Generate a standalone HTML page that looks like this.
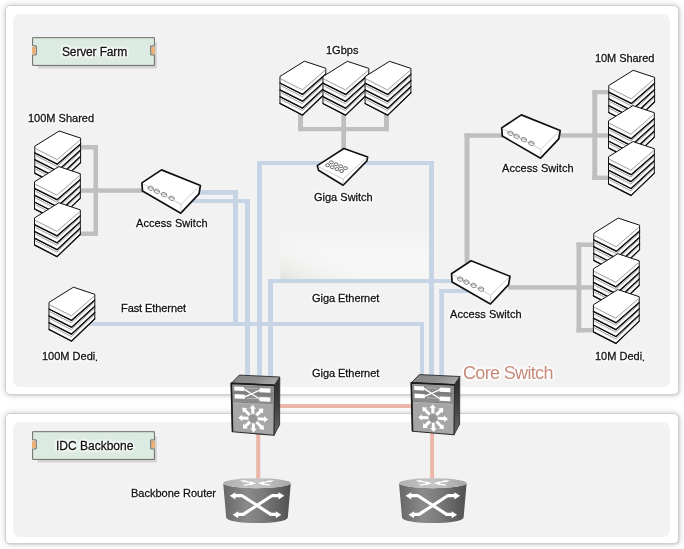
<!DOCTYPE html>
<html lang="en"><head><meta charset="utf-8"><title>Network Diagram</title>
<style>
html,body{margin:0;padding:0;background:#fff;}
#wrap{position:relative;width:684px;height:549px;overflow:hidden;background:#fff;font-family:"Liberation Sans",Arial,Helvetica,sans-serif;}
.panel{position:absolute;box-sizing:border-box;background:#fff;border:1px solid #d0d0d0;border-radius:5px;box-shadow:0 0 6px rgba(0,0,0,0.2),1px 1px 2px rgba(0,0,0,0.08);}
.inner{position:absolute;background:#f2f2f2;border-radius:7px;}
.big{-webkit-text-stroke:0 !important;}
.dot{position:relative;top:1.4px;left:-0.2px;font-size:10.5px;}
.lb{position:absolute;will-change:transform;white-space:nowrap;line-height:20px;height:20px;text-shadow:0 0 2px #fff,0 0 2px #fff,0 0 2px #fff,0 0 3px #fff,0 0 3px #fff,0 0 3px #fff,0 0 4px #fff,0 0 4px #fff;-webkit-text-stroke:0.28px currentColor;}
</style></head><body>
<div id="wrap">
<div class="panel" style="left:5px;top:5px;width:674px;height:390px"></div>
<div class="inner" style="left:13px;top:14px;width:657px;height:373px"></div>
<div class="panel" style="left:5px;top:413px;width:674px;height:131px"></div>
<div class="inner" style="left:13px;top:422px;width:657px;height:115px"></div>
<svg width="684" height="549" viewBox="0 0 684 549" style="position:absolute;left:0;top:0">
<defs>
<linearGradient id="csTop" x1="0" y1="0" x2="1" y2="0.4"><stop offset="0" stop-color="#848484"/><stop offset="0.6" stop-color="#8e8e8e"/><stop offset="1" stop-color="#a6a6a6"/></linearGradient>
<linearGradient id="csSide" x1="0" y1="0" x2="0" y2="1"><stop offset="0" stop-color="#2c2c2c"/><stop offset="0.55" stop-color="#454545"/><stop offset="1" stop-color="#686868"/></linearGradient>
<linearGradient id="rtBody" x1="0" y1="0" x2="1" y2="0"><stop offset="0" stop-color="#666"/><stop offset="0.35" stop-color="#8b8b8b"/><stop offset="0.6" stop-color="#7a7a7a"/><stop offset="1" stop-color="#4f4f4f"/></linearGradient>
<linearGradient id="rtTop" x1="0" y1="0" x2="1" y2="0"><stop offset="0" stop-color="#b0b0b0"/><stop offset="0.5" stop-color="#c6c6c6"/><stop offset="1" stop-color="#a6a6a6"/></linearGradient>
<linearGradient id="patch" x1="0" y1="0" x2="0" y2="1"><stop offset="0" stop-color="#f8f8f8" stop-opacity="0"/><stop offset="0.5" stop-color="#f8f8f8" stop-opacity="0.75"/><stop offset="1" stop-color="#f6f6f5" stop-opacity="1"/></linearGradient>
<linearGradient id="patch2" gradientUnits="userSpaceOnUse" x1="280" y1="281" x2="300" y2="240"><stop offset="0" stop-color="#d9dad5" stop-opacity="0.95"/><stop offset="0.25" stop-color="#e6e6e3" stop-opacity="0.7"/><stop offset="1" stop-color="#f4f4f3" stop-opacity="0"/></linearGradient>
<linearGradient id="patch3" x1="0" y1="0" x2="1" y2="0"><stop offset="0" stop-color="#fff" stop-opacity="0"/><stop offset="0.7" stop-color="#f5f5f5" stop-opacity="0.6"/><stop offset="1" stop-color="#f5f5f5" stop-opacity="1"/></linearGradient>
</defs>
<rect x="280.3" y="228" width="149" height="53" fill="url(#patch)"/>
<rect x="280.3" y="228" width="149" height="53" fill="url(#patch2)"/>
<rect x="80" y="145" width="18" height="4.5" fill="#bfbfbf"/>
<rect x="93.5" y="145" width="4.5" height="91" fill="#bfbfbf"/>
<rect x="80" y="231.5" width="18" height="4.5" fill="#bfbfbf"/>
<rect x="80" y="188.3" width="63" height="4.5" fill="#bfbfbf"/>
<rect x="298" y="112" width="5" height="19.2" fill="#bfbfbf"/>
<rect x="384" y="112" width="5" height="19.2" fill="#bfbfbf"/>
<rect x="298" y="127" width="91" height="4.2" fill="#bfbfbf"/>
<rect x="341.3" y="112" width="4.7" height="38" fill="#bfbfbf"/>
<rect x="464.5" y="133.3" width="38.5" height="4.5" fill="#bfbfbf"/>
<rect x="464.5" y="133.3" width="5.0" height="129.7" fill="#bfbfbf"/>
<rect x="558" y="133.3" width="54" height="4.3" fill="#bfbfbf"/>
<rect x="592.3" y="90" width="5.0" height="90" fill="#bfbfbf"/>
<rect x="592.3" y="90" width="19.7" height="4.3" fill="#bfbfbf"/>
<rect x="592.3" y="175.6" width="19.7" height="4.4" fill="#bfbfbf"/>
<rect x="508" y="285.2" width="89" height="4.5" fill="#bfbfbf"/>
<rect x="576.5" y="242.5" width="4.8" height="89.9" fill="#bfbfbf"/>
<rect x="576.5" y="242.5" width="20.5" height="4.5" fill="#bfbfbf"/>
<rect x="576.5" y="328" width="20.5" height="4.4" fill="#bfbfbf"/>
<rect x="196" y="190" width="42" height="4.8" fill="#c7d4e6"/>
<rect x="233" y="190" width="5" height="136" fill="#c7d4e6"/>
<rect x="186" y="199" width="64" height="4" fill="#c7d4e6"/>
<rect x="245" y="199" width="5" height="178" fill="#c7d4e6"/>
<rect x="257" y="161" width="5" height="216" fill="#c7d4e6"/>
<rect x="257" y="161" width="65" height="4" fill="#c7d4e6"/>
<rect x="364" y="161" width="70" height="4" fill="#c7d4e6"/>
<rect x="429" y="161" width="5" height="216" fill="#c7d4e6"/>
<rect x="268" y="279" width="5" height="98" fill="#c7d4e6"/>
<rect x="268" y="279" width="186" height="4" fill="#c7d4e6"/>
<rect x="89" y="322" width="335" height="4" fill="#c7d4e6"/>
<rect x="420" y="322" width="4" height="55" fill="#c7d4e6"/>
<rect x="439.3" y="289" width="32.7" height="4" fill="#c7d4e6"/>
<rect x="439.3" y="289" width="4.7" height="88" fill="#c7d4e6"/>
<rect x="279" y="404.1" width="133" height="3.9" fill="#ebb6a7"/>
<rect x="256.2" y="433" width="4.0" height="47" fill="#ebb6a7"/>
<rect x="430.2" y="433" width="3.8" height="47" fill="#ebb6a7"/>
<rect x="37.6" y="42.300000000000004" width="119.3" height="26.2" fill="#d3d3d3"/>
<rect x="32.1" y="47.0" width="3.5" height="6.8" fill="#ecb072"/>
<rect x="151.4" y="47.0" width="3.6" height="6.8" fill="#ecb072"/>
<path d="M32.6,37.7 H154.4 V45.9 H150.70000000000002 V54.9 H154.4 V65.4 H32.6 V54.9 H36.300000000000004 V45.9 H32.6 Z" fill="#dcebe2" stroke="#6b6b64" stroke-width="1" stroke-linejoin="miter"/>
<rect x="32.1" y="47.0" width="3.1" height="6.8" fill="#ecb072"/>
<rect x="151.8" y="47.0" width="3.2" height="6.8" fill="#ecb072"/>
<rect x="37.6" y="436.3" width="119.3" height="26.2" fill="#d3d3d3"/>
<rect x="32.1" y="441.0" width="3.5" height="6.8" fill="#ecb072"/>
<rect x="151.4" y="441.0" width="3.6" height="6.8" fill="#ecb072"/>
<path d="M32.6,431.7 H154.4 V439.9 H150.70000000000002 V448.9 H154.4 V459.4 H32.6 V448.9 H36.300000000000004 V439.9 H32.6 Z" fill="#dcebe2" stroke="#6b6b64" stroke-width="1" stroke-linejoin="miter"/>
<rect x="32.1" y="441.0" width="3.1" height="6.8" fill="#ecb072"/>
<rect x="151.8" y="441.0" width="3.2" height="6.8" fill="#ecb072"/>
<g transform="translate(59.2,130.5)">
<polygon points="0,21.2 21.4,26.2 21.4,32.2 -1.8,54.6 -24.4,42.9 -24.4,36.1" fill="#fff" stroke="#111" stroke-width="1.0" stroke-linejoin="miter"/>
<polyline points="-24.4,42.7 -1.8,54.3 21.4,32.0" fill="none" stroke="#111" stroke-width="1.3" stroke-linejoin="round" stroke-linecap="round"/>
<polyline points="-23.7,38.5 -2.0,49.8 20.7,28.1" fill="none" stroke="#777" stroke-width="0.7"/>
<polyline points="-23.7,39.8 -2.0,51.2 20.7,29.3" fill="none" stroke="#e4e4e4" stroke-width="0.5"/>
<polygon points="0,14.3 21.4,20.0 21.4,26.0 -1.8,47.7 -24.4,36.1 -24.4,29.3" fill="#fff" stroke="#111" stroke-width="1.0" stroke-linejoin="miter"/>
<polyline points="-24.4,35.9 -1.8,47.4 21.4,25.8" fill="none" stroke="#111" stroke-width="1.3" stroke-linejoin="round" stroke-linecap="round"/>
<polyline points="-23.7,31.7 -2.0,42.9 20.7,21.9" fill="none" stroke="#777" stroke-width="0.7"/>
<polyline points="-23.7,33.0 -2.0,44.3 20.7,23.1" fill="none" stroke="#e4e4e4" stroke-width="0.5"/>
<polygon points="0,7.4 21.4,13.8 21.4,19.8 -1.8,40.8 -24.4,29.3 -24.4,22.5" fill="#fff" stroke="#111" stroke-width="1.0" stroke-linejoin="miter"/>
<polyline points="-24.4,29.1 -1.8,40.5 21.4,19.6" fill="none" stroke="#111" stroke-width="1.3" stroke-linejoin="round" stroke-linecap="round"/>
<polyline points="-23.7,24.9 -2.0,36.0 20.7,15.7" fill="none" stroke="#777" stroke-width="0.7"/>
<polyline points="-23.7,26.2 -2.0,37.4 20.7,16.9" fill="none" stroke="#e4e4e4" stroke-width="0.5"/>
<polygon points="0,0.5 21.4,7.6 21.4,13.6 -1.8,33.9 -24.4,22.5 -24.4,15.7" fill="#fff" stroke="#111" stroke-width="1.0" stroke-linejoin="miter"/>
<polyline points="-24.4,22.3 -1.8,33.6 21.4,13.4" fill="none" stroke="#111" stroke-width="1.3" stroke-linejoin="round" stroke-linecap="round"/>
<polyline points="-23.7,18.1 -2.0,29.1 20.7,9.5" fill="none" stroke="#777" stroke-width="0.7"/>
<polyline points="-23.7,19.4 -2.0,30.5 20.7,10.7" fill="none" stroke="#e4e4e4" stroke-width="0.5"/>
</g>
<g transform="translate(58.9,166.1)">
<polygon points="0,21.2 21.4,26.2 21.4,32.2 -1.8,54.6 -24.4,42.9 -24.4,36.1" fill="#fff" stroke="#111" stroke-width="1.0" stroke-linejoin="miter"/>
<polyline points="-24.4,42.7 -1.8,54.3 21.4,32.0" fill="none" stroke="#111" stroke-width="1.3" stroke-linejoin="round" stroke-linecap="round"/>
<polyline points="-23.7,38.5 -2.0,49.8 20.7,28.1" fill="none" stroke="#777" stroke-width="0.7"/>
<polyline points="-23.7,39.8 -2.0,51.2 20.7,29.3" fill="none" stroke="#e4e4e4" stroke-width="0.5"/>
<polygon points="0,14.3 21.4,20.0 21.4,26.0 -1.8,47.7 -24.4,36.1 -24.4,29.3" fill="#fff" stroke="#111" stroke-width="1.0" stroke-linejoin="miter"/>
<polyline points="-24.4,35.9 -1.8,47.4 21.4,25.8" fill="none" stroke="#111" stroke-width="1.3" stroke-linejoin="round" stroke-linecap="round"/>
<polyline points="-23.7,31.7 -2.0,42.9 20.7,21.9" fill="none" stroke="#777" stroke-width="0.7"/>
<polyline points="-23.7,33.0 -2.0,44.3 20.7,23.1" fill="none" stroke="#e4e4e4" stroke-width="0.5"/>
<polygon points="0,7.4 21.4,13.8 21.4,19.8 -1.8,40.8 -24.4,29.3 -24.4,22.5" fill="#fff" stroke="#111" stroke-width="1.0" stroke-linejoin="miter"/>
<polyline points="-24.4,29.1 -1.8,40.5 21.4,19.6" fill="none" stroke="#111" stroke-width="1.3" stroke-linejoin="round" stroke-linecap="round"/>
<polyline points="-23.7,24.9 -2.0,36.0 20.7,15.7" fill="none" stroke="#777" stroke-width="0.7"/>
<polyline points="-23.7,26.2 -2.0,37.4 20.7,16.9" fill="none" stroke="#e4e4e4" stroke-width="0.5"/>
<polygon points="0,0.5 21.4,7.6 21.4,13.6 -1.8,33.9 -24.4,22.5 -24.4,15.7" fill="#fff" stroke="#111" stroke-width="1.0" stroke-linejoin="miter"/>
<polyline points="-24.4,22.3 -1.8,33.6 21.4,13.4" fill="none" stroke="#111" stroke-width="1.3" stroke-linejoin="round" stroke-linecap="round"/>
<polyline points="-23.7,18.1 -2.0,29.1 20.7,9.5" fill="none" stroke="#777" stroke-width="0.7"/>
<polyline points="-23.7,19.4 -2.0,30.5 20.7,10.7" fill="none" stroke="#e4e4e4" stroke-width="0.5"/>
</g>
<g transform="translate(58.9,202.25)">
<polygon points="0,21.2 21.4,26.2 21.4,32.2 -1.8,54.6 -24.4,42.9 -24.4,36.1" fill="#fff" stroke="#111" stroke-width="1.0" stroke-linejoin="miter"/>
<polyline points="-24.4,42.7 -1.8,54.3 21.4,32.0" fill="none" stroke="#111" stroke-width="1.3" stroke-linejoin="round" stroke-linecap="round"/>
<polyline points="-23.7,38.5 -2.0,49.8 20.7,28.1" fill="none" stroke="#777" stroke-width="0.7"/>
<polyline points="-23.7,39.8 -2.0,51.2 20.7,29.3" fill="none" stroke="#e4e4e4" stroke-width="0.5"/>
<polygon points="0,14.3 21.4,20.0 21.4,26.0 -1.8,47.7 -24.4,36.1 -24.4,29.3" fill="#fff" stroke="#111" stroke-width="1.0" stroke-linejoin="miter"/>
<polyline points="-24.4,35.9 -1.8,47.4 21.4,25.8" fill="none" stroke="#111" stroke-width="1.3" stroke-linejoin="round" stroke-linecap="round"/>
<polyline points="-23.7,31.7 -2.0,42.9 20.7,21.9" fill="none" stroke="#777" stroke-width="0.7"/>
<polyline points="-23.7,33.0 -2.0,44.3 20.7,23.1" fill="none" stroke="#e4e4e4" stroke-width="0.5"/>
<polygon points="0,7.4 21.4,13.8 21.4,19.8 -1.8,40.8 -24.4,29.3 -24.4,22.5" fill="#fff" stroke="#111" stroke-width="1.0" stroke-linejoin="miter"/>
<polyline points="-24.4,29.1 -1.8,40.5 21.4,19.6" fill="none" stroke="#111" stroke-width="1.3" stroke-linejoin="round" stroke-linecap="round"/>
<polyline points="-23.7,24.9 -2.0,36.0 20.7,15.7" fill="none" stroke="#777" stroke-width="0.7"/>
<polyline points="-23.7,26.2 -2.0,37.4 20.7,16.9" fill="none" stroke="#e4e4e4" stroke-width="0.5"/>
<polygon points="0,0.5 21.4,7.6 21.4,13.6 -1.8,33.9 -24.4,22.5 -24.4,15.7" fill="#fff" stroke="#111" stroke-width="1.0" stroke-linejoin="miter"/>
<polyline points="-24.4,22.3 -1.8,33.6 21.4,13.4" fill="none" stroke="#111" stroke-width="1.3" stroke-linejoin="round" stroke-linecap="round"/>
<polyline points="-23.7,18.1 -2.0,29.1 20.7,9.5" fill="none" stroke="#777" stroke-width="0.7"/>
<polyline points="-23.7,19.4 -2.0,30.5 20.7,10.7" fill="none" stroke="#e4e4e4" stroke-width="0.5"/>
</g>
<g transform="translate(73.4,286.7)">
<polygon points="0,21.2 21.4,26.2 21.4,32.2 -1.8,54.6 -24.4,42.9 -24.4,36.1" fill="#fff" stroke="#111" stroke-width="1.0" stroke-linejoin="miter"/>
<polyline points="-24.4,42.7 -1.8,54.3 21.4,32.0" fill="none" stroke="#111" stroke-width="1.3" stroke-linejoin="round" stroke-linecap="round"/>
<polyline points="-23.7,38.5 -2.0,49.8 20.7,28.1" fill="none" stroke="#777" stroke-width="0.7"/>
<polyline points="-23.7,39.8 -2.0,51.2 20.7,29.3" fill="none" stroke="#e4e4e4" stroke-width="0.5"/>
<polygon points="0,14.3 21.4,20.0 21.4,26.0 -1.8,47.7 -24.4,36.1 -24.4,29.3" fill="#fff" stroke="#111" stroke-width="1.0" stroke-linejoin="miter"/>
<polyline points="-24.4,35.9 -1.8,47.4 21.4,25.8" fill="none" stroke="#111" stroke-width="1.3" stroke-linejoin="round" stroke-linecap="round"/>
<polyline points="-23.7,31.7 -2.0,42.9 20.7,21.9" fill="none" stroke="#777" stroke-width="0.7"/>
<polyline points="-23.7,33.0 -2.0,44.3 20.7,23.1" fill="none" stroke="#e4e4e4" stroke-width="0.5"/>
<polygon points="0,7.4 21.4,13.8 21.4,19.8 -1.8,40.8 -24.4,29.3 -24.4,22.5" fill="#fff" stroke="#111" stroke-width="1.0" stroke-linejoin="miter"/>
<polyline points="-24.4,29.1 -1.8,40.5 21.4,19.6" fill="none" stroke="#111" stroke-width="1.3" stroke-linejoin="round" stroke-linecap="round"/>
<polyline points="-23.7,24.9 -2.0,36.0 20.7,15.7" fill="none" stroke="#777" stroke-width="0.7"/>
<polyline points="-23.7,26.2 -2.0,37.4 20.7,16.9" fill="none" stroke="#e4e4e4" stroke-width="0.5"/>
<polygon points="0,0.5 21.4,7.6 21.4,13.6 -1.8,33.9 -24.4,22.5 -24.4,15.7" fill="#fff" stroke="#111" stroke-width="1.0" stroke-linejoin="miter"/>
<polyline points="-24.4,22.3 -1.8,33.6 21.4,13.4" fill="none" stroke="#111" stroke-width="1.3" stroke-linejoin="round" stroke-linecap="round"/>
<polyline points="-23.7,18.1 -2.0,29.1 20.7,9.5" fill="none" stroke="#777" stroke-width="0.7"/>
<polyline points="-23.7,19.4 -2.0,30.5 20.7,10.7" fill="none" stroke="#e4e4e4" stroke-width="0.5"/>
</g>
<g transform="translate(304.4,60.7)">
<polygon points="0,21.2 21.4,26.2 21.4,32.2 -1.8,54.6 -24.4,42.9 -24.4,36.1" fill="#fff" stroke="#111" stroke-width="1.0" stroke-linejoin="miter"/>
<polyline points="-24.4,42.7 -1.8,54.3 21.4,32.0" fill="none" stroke="#111" stroke-width="1.3" stroke-linejoin="round" stroke-linecap="round"/>
<polyline points="-23.7,38.5 -2.0,49.8 20.7,28.1" fill="none" stroke="#777" stroke-width="0.7"/>
<polyline points="-23.7,39.8 -2.0,51.2 20.7,29.3" fill="none" stroke="#e4e4e4" stroke-width="0.5"/>
<polygon points="0,14.3 21.4,20.0 21.4,26.0 -1.8,47.7 -24.4,36.1 -24.4,29.3" fill="#fff" stroke="#111" stroke-width="1.0" stroke-linejoin="miter"/>
<polyline points="-24.4,35.9 -1.8,47.4 21.4,25.8" fill="none" stroke="#111" stroke-width="1.3" stroke-linejoin="round" stroke-linecap="round"/>
<polyline points="-23.7,31.7 -2.0,42.9 20.7,21.9" fill="none" stroke="#777" stroke-width="0.7"/>
<polyline points="-23.7,33.0 -2.0,44.3 20.7,23.1" fill="none" stroke="#e4e4e4" stroke-width="0.5"/>
<polygon points="0,7.4 21.4,13.8 21.4,19.8 -1.8,40.8 -24.4,29.3 -24.4,22.5" fill="#fff" stroke="#111" stroke-width="1.0" stroke-linejoin="miter"/>
<polyline points="-24.4,29.1 -1.8,40.5 21.4,19.6" fill="none" stroke="#111" stroke-width="1.3" stroke-linejoin="round" stroke-linecap="round"/>
<polyline points="-23.7,24.9 -2.0,36.0 20.7,15.7" fill="none" stroke="#777" stroke-width="0.7"/>
<polyline points="-23.7,26.2 -2.0,37.4 20.7,16.9" fill="none" stroke="#e4e4e4" stroke-width="0.5"/>
<polygon points="0,0.5 21.4,7.6 21.4,13.6 -1.8,33.9 -24.4,22.5 -24.4,15.7" fill="#fff" stroke="#111" stroke-width="1.0" stroke-linejoin="miter"/>
<polyline points="-24.4,22.3 -1.8,33.6 21.4,13.4" fill="none" stroke="#111" stroke-width="1.3" stroke-linejoin="round" stroke-linecap="round"/>
<polyline points="-23.7,18.1 -2.0,29.1 20.7,9.5" fill="none" stroke="#777" stroke-width="0.7"/>
<polyline points="-23.7,19.4 -2.0,30.5 20.7,10.7" fill="none" stroke="#e4e4e4" stroke-width="0.5"/>
</g>
<g transform="translate(347.4,60.8)">
<polygon points="0,21.2 21.4,26.2 21.4,32.2 -1.8,54.6 -24.4,42.9 -24.4,36.1" fill="#fff" stroke="#111" stroke-width="1.0" stroke-linejoin="miter"/>
<polyline points="-24.4,42.7 -1.8,54.3 21.4,32.0" fill="none" stroke="#111" stroke-width="1.3" stroke-linejoin="round" stroke-linecap="round"/>
<polyline points="-23.7,38.5 -2.0,49.8 20.7,28.1" fill="none" stroke="#777" stroke-width="0.7"/>
<polyline points="-23.7,39.8 -2.0,51.2 20.7,29.3" fill="none" stroke="#e4e4e4" stroke-width="0.5"/>
<polygon points="0,14.3 21.4,20.0 21.4,26.0 -1.8,47.7 -24.4,36.1 -24.4,29.3" fill="#fff" stroke="#111" stroke-width="1.0" stroke-linejoin="miter"/>
<polyline points="-24.4,35.9 -1.8,47.4 21.4,25.8" fill="none" stroke="#111" stroke-width="1.3" stroke-linejoin="round" stroke-linecap="round"/>
<polyline points="-23.7,31.7 -2.0,42.9 20.7,21.9" fill="none" stroke="#777" stroke-width="0.7"/>
<polyline points="-23.7,33.0 -2.0,44.3 20.7,23.1" fill="none" stroke="#e4e4e4" stroke-width="0.5"/>
<polygon points="0,7.4 21.4,13.8 21.4,19.8 -1.8,40.8 -24.4,29.3 -24.4,22.5" fill="#fff" stroke="#111" stroke-width="1.0" stroke-linejoin="miter"/>
<polyline points="-24.4,29.1 -1.8,40.5 21.4,19.6" fill="none" stroke="#111" stroke-width="1.3" stroke-linejoin="round" stroke-linecap="round"/>
<polyline points="-23.7,24.9 -2.0,36.0 20.7,15.7" fill="none" stroke="#777" stroke-width="0.7"/>
<polyline points="-23.7,26.2 -2.0,37.4 20.7,16.9" fill="none" stroke="#e4e4e4" stroke-width="0.5"/>
<polygon points="0,0.5 21.4,7.6 21.4,13.6 -1.8,33.9 -24.4,22.5 -24.4,15.7" fill="#fff" stroke="#111" stroke-width="1.0" stroke-linejoin="miter"/>
<polyline points="-24.4,22.3 -1.8,33.6 21.4,13.4" fill="none" stroke="#111" stroke-width="1.3" stroke-linejoin="round" stroke-linecap="round"/>
<polyline points="-23.7,18.1 -2.0,29.1 20.7,9.5" fill="none" stroke="#777" stroke-width="0.7"/>
<polyline points="-23.7,19.4 -2.0,30.5 20.7,10.7" fill="none" stroke="#e4e4e4" stroke-width="0.5"/>
</g>
<g transform="translate(389.5,60.8)">
<polygon points="0,21.2 21.4,26.2 21.4,32.2 -1.8,54.6 -24.4,42.9 -24.4,36.1" fill="#fff" stroke="#111" stroke-width="1.0" stroke-linejoin="miter"/>
<polyline points="-24.4,42.7 -1.8,54.3 21.4,32.0" fill="none" stroke="#111" stroke-width="1.3" stroke-linejoin="round" stroke-linecap="round"/>
<polyline points="-23.7,38.5 -2.0,49.8 20.7,28.1" fill="none" stroke="#777" stroke-width="0.7"/>
<polyline points="-23.7,39.8 -2.0,51.2 20.7,29.3" fill="none" stroke="#e4e4e4" stroke-width="0.5"/>
<polygon points="0,14.3 21.4,20.0 21.4,26.0 -1.8,47.7 -24.4,36.1 -24.4,29.3" fill="#fff" stroke="#111" stroke-width="1.0" stroke-linejoin="miter"/>
<polyline points="-24.4,35.9 -1.8,47.4 21.4,25.8" fill="none" stroke="#111" stroke-width="1.3" stroke-linejoin="round" stroke-linecap="round"/>
<polyline points="-23.7,31.7 -2.0,42.9 20.7,21.9" fill="none" stroke="#777" stroke-width="0.7"/>
<polyline points="-23.7,33.0 -2.0,44.3 20.7,23.1" fill="none" stroke="#e4e4e4" stroke-width="0.5"/>
<polygon points="0,7.4 21.4,13.8 21.4,19.8 -1.8,40.8 -24.4,29.3 -24.4,22.5" fill="#fff" stroke="#111" stroke-width="1.0" stroke-linejoin="miter"/>
<polyline points="-24.4,29.1 -1.8,40.5 21.4,19.6" fill="none" stroke="#111" stroke-width="1.3" stroke-linejoin="round" stroke-linecap="round"/>
<polyline points="-23.7,24.9 -2.0,36.0 20.7,15.7" fill="none" stroke="#777" stroke-width="0.7"/>
<polyline points="-23.7,26.2 -2.0,37.4 20.7,16.9" fill="none" stroke="#e4e4e4" stroke-width="0.5"/>
<polygon points="0,0.5 21.4,7.6 21.4,13.6 -1.8,33.9 -24.4,22.5 -24.4,15.7" fill="#fff" stroke="#111" stroke-width="1.0" stroke-linejoin="miter"/>
<polyline points="-24.4,22.3 -1.8,33.6 21.4,13.4" fill="none" stroke="#111" stroke-width="1.3" stroke-linejoin="round" stroke-linecap="round"/>
<polyline points="-23.7,18.1 -2.0,29.1 20.7,9.5" fill="none" stroke="#777" stroke-width="0.7"/>
<polyline points="-23.7,19.4 -2.0,30.5 20.7,10.7" fill="none" stroke="#e4e4e4" stroke-width="0.5"/>
</g>
<g transform="translate(633.2,69.8)">
<polygon points="0,21.2 21.4,26.2 21.4,32.2 -1.8,54.6 -24.4,42.9 -24.4,36.1" fill="#fff" stroke="#111" stroke-width="1.0" stroke-linejoin="miter"/>
<polyline points="-24.4,42.7 -1.8,54.3 21.4,32.0" fill="none" stroke="#111" stroke-width="1.3" stroke-linejoin="round" stroke-linecap="round"/>
<polyline points="-23.7,38.5 -2.0,49.8 20.7,28.1" fill="none" stroke="#777" stroke-width="0.7"/>
<polyline points="-23.7,39.8 -2.0,51.2 20.7,29.3" fill="none" stroke="#e4e4e4" stroke-width="0.5"/>
<polygon points="0,14.3 21.4,20.0 21.4,26.0 -1.8,47.7 -24.4,36.1 -24.4,29.3" fill="#fff" stroke="#111" stroke-width="1.0" stroke-linejoin="miter"/>
<polyline points="-24.4,35.9 -1.8,47.4 21.4,25.8" fill="none" stroke="#111" stroke-width="1.3" stroke-linejoin="round" stroke-linecap="round"/>
<polyline points="-23.7,31.7 -2.0,42.9 20.7,21.9" fill="none" stroke="#777" stroke-width="0.7"/>
<polyline points="-23.7,33.0 -2.0,44.3 20.7,23.1" fill="none" stroke="#e4e4e4" stroke-width="0.5"/>
<polygon points="0,7.4 21.4,13.8 21.4,19.8 -1.8,40.8 -24.4,29.3 -24.4,22.5" fill="#fff" stroke="#111" stroke-width="1.0" stroke-linejoin="miter"/>
<polyline points="-24.4,29.1 -1.8,40.5 21.4,19.6" fill="none" stroke="#111" stroke-width="1.3" stroke-linejoin="round" stroke-linecap="round"/>
<polyline points="-23.7,24.9 -2.0,36.0 20.7,15.7" fill="none" stroke="#777" stroke-width="0.7"/>
<polyline points="-23.7,26.2 -2.0,37.4 20.7,16.9" fill="none" stroke="#e4e4e4" stroke-width="0.5"/>
<polygon points="0,0.5 21.4,7.6 21.4,13.6 -1.8,33.9 -24.4,22.5 -24.4,15.7" fill="#fff" stroke="#111" stroke-width="1.0" stroke-linejoin="miter"/>
<polyline points="-24.4,22.3 -1.8,33.6 21.4,13.4" fill="none" stroke="#111" stroke-width="1.3" stroke-linejoin="round" stroke-linecap="round"/>
<polyline points="-23.7,18.1 -2.0,29.1 20.7,9.5" fill="none" stroke="#777" stroke-width="0.7"/>
<polyline points="-23.7,19.4 -2.0,30.5 20.7,10.7" fill="none" stroke="#e4e4e4" stroke-width="0.5"/>
</g>
<g transform="translate(632.9,105.1)">
<polygon points="0,21.2 21.4,26.2 21.4,32.2 -1.8,54.6 -24.4,42.9 -24.4,36.1" fill="#fff" stroke="#111" stroke-width="1.0" stroke-linejoin="miter"/>
<polyline points="-24.4,42.7 -1.8,54.3 21.4,32.0" fill="none" stroke="#111" stroke-width="1.3" stroke-linejoin="round" stroke-linecap="round"/>
<polyline points="-23.7,38.5 -2.0,49.8 20.7,28.1" fill="none" stroke="#777" stroke-width="0.7"/>
<polyline points="-23.7,39.8 -2.0,51.2 20.7,29.3" fill="none" stroke="#e4e4e4" stroke-width="0.5"/>
<polygon points="0,14.3 21.4,20.0 21.4,26.0 -1.8,47.7 -24.4,36.1 -24.4,29.3" fill="#fff" stroke="#111" stroke-width="1.0" stroke-linejoin="miter"/>
<polyline points="-24.4,35.9 -1.8,47.4 21.4,25.8" fill="none" stroke="#111" stroke-width="1.3" stroke-linejoin="round" stroke-linecap="round"/>
<polyline points="-23.7,31.7 -2.0,42.9 20.7,21.9" fill="none" stroke="#777" stroke-width="0.7"/>
<polyline points="-23.7,33.0 -2.0,44.3 20.7,23.1" fill="none" stroke="#e4e4e4" stroke-width="0.5"/>
<polygon points="0,7.4 21.4,13.8 21.4,19.8 -1.8,40.8 -24.4,29.3 -24.4,22.5" fill="#fff" stroke="#111" stroke-width="1.0" stroke-linejoin="miter"/>
<polyline points="-24.4,29.1 -1.8,40.5 21.4,19.6" fill="none" stroke="#111" stroke-width="1.3" stroke-linejoin="round" stroke-linecap="round"/>
<polyline points="-23.7,24.9 -2.0,36.0 20.7,15.7" fill="none" stroke="#777" stroke-width="0.7"/>
<polyline points="-23.7,26.2 -2.0,37.4 20.7,16.9" fill="none" stroke="#e4e4e4" stroke-width="0.5"/>
<polygon points="0,0.5 21.4,7.6 21.4,13.6 -1.8,33.9 -24.4,22.5 -24.4,15.7" fill="#fff" stroke="#111" stroke-width="1.0" stroke-linejoin="miter"/>
<polyline points="-24.4,22.3 -1.8,33.6 21.4,13.4" fill="none" stroke="#111" stroke-width="1.3" stroke-linejoin="round" stroke-linecap="round"/>
<polyline points="-23.7,18.1 -2.0,29.1 20.7,9.5" fill="none" stroke="#777" stroke-width="0.7"/>
<polyline points="-23.7,19.4 -2.0,30.5 20.7,10.7" fill="none" stroke="#e4e4e4" stroke-width="0.5"/>
</g>
<g transform="translate(632.9,141.1)">
<polygon points="0,21.2 21.4,26.2 21.4,32.2 -1.8,54.6 -24.4,42.9 -24.4,36.1" fill="#fff" stroke="#111" stroke-width="1.0" stroke-linejoin="miter"/>
<polyline points="-24.4,42.7 -1.8,54.3 21.4,32.0" fill="none" stroke="#111" stroke-width="1.3" stroke-linejoin="round" stroke-linecap="round"/>
<polyline points="-23.7,38.5 -2.0,49.8 20.7,28.1" fill="none" stroke="#777" stroke-width="0.7"/>
<polyline points="-23.7,39.8 -2.0,51.2 20.7,29.3" fill="none" stroke="#e4e4e4" stroke-width="0.5"/>
<polygon points="0,14.3 21.4,20.0 21.4,26.0 -1.8,47.7 -24.4,36.1 -24.4,29.3" fill="#fff" stroke="#111" stroke-width="1.0" stroke-linejoin="miter"/>
<polyline points="-24.4,35.9 -1.8,47.4 21.4,25.8" fill="none" stroke="#111" stroke-width="1.3" stroke-linejoin="round" stroke-linecap="round"/>
<polyline points="-23.7,31.7 -2.0,42.9 20.7,21.9" fill="none" stroke="#777" stroke-width="0.7"/>
<polyline points="-23.7,33.0 -2.0,44.3 20.7,23.1" fill="none" stroke="#e4e4e4" stroke-width="0.5"/>
<polygon points="0,7.4 21.4,13.8 21.4,19.8 -1.8,40.8 -24.4,29.3 -24.4,22.5" fill="#fff" stroke="#111" stroke-width="1.0" stroke-linejoin="miter"/>
<polyline points="-24.4,29.1 -1.8,40.5 21.4,19.6" fill="none" stroke="#111" stroke-width="1.3" stroke-linejoin="round" stroke-linecap="round"/>
<polyline points="-23.7,24.9 -2.0,36.0 20.7,15.7" fill="none" stroke="#777" stroke-width="0.7"/>
<polyline points="-23.7,26.2 -2.0,37.4 20.7,16.9" fill="none" stroke="#e4e4e4" stroke-width="0.5"/>
<polygon points="0,0.5 21.4,7.6 21.4,13.6 -1.8,33.9 -24.4,22.5 -24.4,15.7" fill="#fff" stroke="#111" stroke-width="1.0" stroke-linejoin="miter"/>
<polyline points="-24.4,22.3 -1.8,33.6 21.4,13.4" fill="none" stroke="#111" stroke-width="1.3" stroke-linejoin="round" stroke-linecap="round"/>
<polyline points="-23.7,18.1 -2.0,29.1 20.7,9.5" fill="none" stroke="#777" stroke-width="0.7"/>
<polyline points="-23.7,19.4 -2.0,30.5 20.7,10.7" fill="none" stroke="#e4e4e4" stroke-width="0.5"/>
</g>
<g transform="translate(618.2,217.6)">
<polygon points="0,21.2 21.4,26.2 21.4,32.2 -1.8,54.6 -24.4,42.9 -24.4,36.1" fill="#fff" stroke="#111" stroke-width="1.0" stroke-linejoin="miter"/>
<polyline points="-24.4,42.7 -1.8,54.3 21.4,32.0" fill="none" stroke="#111" stroke-width="1.3" stroke-linejoin="round" stroke-linecap="round"/>
<polyline points="-23.7,38.5 -2.0,49.8 20.7,28.1" fill="none" stroke="#777" stroke-width="0.7"/>
<polyline points="-23.7,39.8 -2.0,51.2 20.7,29.3" fill="none" stroke="#e4e4e4" stroke-width="0.5"/>
<polygon points="0,14.3 21.4,20.0 21.4,26.0 -1.8,47.7 -24.4,36.1 -24.4,29.3" fill="#fff" stroke="#111" stroke-width="1.0" stroke-linejoin="miter"/>
<polyline points="-24.4,35.9 -1.8,47.4 21.4,25.8" fill="none" stroke="#111" stroke-width="1.3" stroke-linejoin="round" stroke-linecap="round"/>
<polyline points="-23.7,31.7 -2.0,42.9 20.7,21.9" fill="none" stroke="#777" stroke-width="0.7"/>
<polyline points="-23.7,33.0 -2.0,44.3 20.7,23.1" fill="none" stroke="#e4e4e4" stroke-width="0.5"/>
<polygon points="0,7.4 21.4,13.8 21.4,19.8 -1.8,40.8 -24.4,29.3 -24.4,22.5" fill="#fff" stroke="#111" stroke-width="1.0" stroke-linejoin="miter"/>
<polyline points="-24.4,29.1 -1.8,40.5 21.4,19.6" fill="none" stroke="#111" stroke-width="1.3" stroke-linejoin="round" stroke-linecap="round"/>
<polyline points="-23.7,24.9 -2.0,36.0 20.7,15.7" fill="none" stroke="#777" stroke-width="0.7"/>
<polyline points="-23.7,26.2 -2.0,37.4 20.7,16.9" fill="none" stroke="#e4e4e4" stroke-width="0.5"/>
<polygon points="0,0.5 21.4,7.6 21.4,13.6 -1.8,33.9 -24.4,22.5 -24.4,15.7" fill="#fff" stroke="#111" stroke-width="1.0" stroke-linejoin="miter"/>
<polyline points="-24.4,22.3 -1.8,33.6 21.4,13.4" fill="none" stroke="#111" stroke-width="1.3" stroke-linejoin="round" stroke-linecap="round"/>
<polyline points="-23.7,18.1 -2.0,29.1 20.7,9.5" fill="none" stroke="#777" stroke-width="0.7"/>
<polyline points="-23.7,19.4 -2.0,30.5 20.7,10.7" fill="none" stroke="#e4e4e4" stroke-width="0.5"/>
</g>
<g transform="translate(617.8,253.2)">
<polygon points="0,21.2 21.4,26.2 21.4,32.2 -1.8,54.6 -24.4,42.9 -24.4,36.1" fill="#fff" stroke="#111" stroke-width="1.0" stroke-linejoin="miter"/>
<polyline points="-24.4,42.7 -1.8,54.3 21.4,32.0" fill="none" stroke="#111" stroke-width="1.3" stroke-linejoin="round" stroke-linecap="round"/>
<polyline points="-23.7,38.5 -2.0,49.8 20.7,28.1" fill="none" stroke="#777" stroke-width="0.7"/>
<polyline points="-23.7,39.8 -2.0,51.2 20.7,29.3" fill="none" stroke="#e4e4e4" stroke-width="0.5"/>
<polygon points="0,14.3 21.4,20.0 21.4,26.0 -1.8,47.7 -24.4,36.1 -24.4,29.3" fill="#fff" stroke="#111" stroke-width="1.0" stroke-linejoin="miter"/>
<polyline points="-24.4,35.9 -1.8,47.4 21.4,25.8" fill="none" stroke="#111" stroke-width="1.3" stroke-linejoin="round" stroke-linecap="round"/>
<polyline points="-23.7,31.7 -2.0,42.9 20.7,21.9" fill="none" stroke="#777" stroke-width="0.7"/>
<polyline points="-23.7,33.0 -2.0,44.3 20.7,23.1" fill="none" stroke="#e4e4e4" stroke-width="0.5"/>
<polygon points="0,7.4 21.4,13.8 21.4,19.8 -1.8,40.8 -24.4,29.3 -24.4,22.5" fill="#fff" stroke="#111" stroke-width="1.0" stroke-linejoin="miter"/>
<polyline points="-24.4,29.1 -1.8,40.5 21.4,19.6" fill="none" stroke="#111" stroke-width="1.3" stroke-linejoin="round" stroke-linecap="round"/>
<polyline points="-23.7,24.9 -2.0,36.0 20.7,15.7" fill="none" stroke="#777" stroke-width="0.7"/>
<polyline points="-23.7,26.2 -2.0,37.4 20.7,16.9" fill="none" stroke="#e4e4e4" stroke-width="0.5"/>
<polygon points="0,0.5 21.4,7.6 21.4,13.6 -1.8,33.9 -24.4,22.5 -24.4,15.7" fill="#fff" stroke="#111" stroke-width="1.0" stroke-linejoin="miter"/>
<polyline points="-24.4,22.3 -1.8,33.6 21.4,13.4" fill="none" stroke="#111" stroke-width="1.3" stroke-linejoin="round" stroke-linecap="round"/>
<polyline points="-23.7,18.1 -2.0,29.1 20.7,9.5" fill="none" stroke="#777" stroke-width="0.7"/>
<polyline points="-23.7,19.4 -2.0,30.5 20.7,10.7" fill="none" stroke="#e4e4e4" stroke-width="0.5"/>
</g>
<g transform="translate(617.8,289.1)">
<polygon points="0,21.2 21.4,26.2 21.4,32.2 -1.8,54.6 -24.4,42.9 -24.4,36.1" fill="#fff" stroke="#111" stroke-width="1.0" stroke-linejoin="miter"/>
<polyline points="-24.4,42.7 -1.8,54.3 21.4,32.0" fill="none" stroke="#111" stroke-width="1.3" stroke-linejoin="round" stroke-linecap="round"/>
<polyline points="-23.7,38.5 -2.0,49.8 20.7,28.1" fill="none" stroke="#777" stroke-width="0.7"/>
<polyline points="-23.7,39.8 -2.0,51.2 20.7,29.3" fill="none" stroke="#e4e4e4" stroke-width="0.5"/>
<polygon points="0,14.3 21.4,20.0 21.4,26.0 -1.8,47.7 -24.4,36.1 -24.4,29.3" fill="#fff" stroke="#111" stroke-width="1.0" stroke-linejoin="miter"/>
<polyline points="-24.4,35.9 -1.8,47.4 21.4,25.8" fill="none" stroke="#111" stroke-width="1.3" stroke-linejoin="round" stroke-linecap="round"/>
<polyline points="-23.7,31.7 -2.0,42.9 20.7,21.9" fill="none" stroke="#777" stroke-width="0.7"/>
<polyline points="-23.7,33.0 -2.0,44.3 20.7,23.1" fill="none" stroke="#e4e4e4" stroke-width="0.5"/>
<polygon points="0,7.4 21.4,13.8 21.4,19.8 -1.8,40.8 -24.4,29.3 -24.4,22.5" fill="#fff" stroke="#111" stroke-width="1.0" stroke-linejoin="miter"/>
<polyline points="-24.4,29.1 -1.8,40.5 21.4,19.6" fill="none" stroke="#111" stroke-width="1.3" stroke-linejoin="round" stroke-linecap="round"/>
<polyline points="-23.7,24.9 -2.0,36.0 20.7,15.7" fill="none" stroke="#777" stroke-width="0.7"/>
<polyline points="-23.7,26.2 -2.0,37.4 20.7,16.9" fill="none" stroke="#e4e4e4" stroke-width="0.5"/>
<polygon points="0,0.5 21.4,7.6 21.4,13.6 -1.8,33.9 -24.4,22.5 -24.4,15.7" fill="#fff" stroke="#111" stroke-width="1.0" stroke-linejoin="miter"/>
<polyline points="-24.4,22.3 -1.8,33.6 21.4,13.4" fill="none" stroke="#111" stroke-width="1.3" stroke-linejoin="round" stroke-linecap="round"/>
<polyline points="-23.7,18.1 -2.0,29.1 20.7,9.5" fill="none" stroke="#777" stroke-width="0.7"/>
<polyline points="-23.7,19.4 -2.0,30.5 20.7,10.7" fill="none" stroke="#e4e4e4" stroke-width="0.5"/>
</g>
<g transform="translate(161.5,169.9)">
<polygon points="0,0 38.9,15.6 37.5,24.0 19.3,43.3 -19.0,21.2 -19.6,13.0" fill="#fff" stroke="#111" stroke-width="1.7" stroke-linejoin="round"/>
<polyline points="-18.8,13.8 19.6,34.4 38.1,16.2" fill="none" stroke="#aaa" stroke-width="0.6"/>
<line x1="19.6" y1="34.4" x2="19.3" y2="42.5" stroke="#aaa" stroke-width="0.6"/>
<ellipse cx="-10.8" cy="18.4" rx="2.8" ry="2.1" fill="#fff" stroke="#666" stroke-width="0.7" transform="rotate(20 -10.8 18.4)"/>
<line x1="-13.5" y1="17.4" x2="-8.1" y2="18.6" stroke="#6a6a6a" stroke-width="0.6"/>
<ellipse cx="-4.7" cy="21.4" rx="2.8" ry="2.1" fill="#fff" stroke="#666" stroke-width="0.7" transform="rotate(20 -4.7 21.4)"/>
<line x1="-7.4" y1="20.4" x2="-2.0" y2="21.6" stroke="#6a6a6a" stroke-width="0.6"/>
<ellipse cx="2.5" cy="24.7" rx="2.8" ry="2.1" fill="#fff" stroke="#666" stroke-width="0.7" transform="rotate(20 2.5 24.7)"/>
<line x1="-0.2" y1="23.7" x2="5.2" y2="24.9" stroke="#6a6a6a" stroke-width="0.6"/>
<ellipse cx="10.1" cy="28.4" rx="2.8" ry="2.1" fill="#fff" stroke="#666" stroke-width="0.7" transform="rotate(20 10.1 28.4)"/>
<line x1="7.4" y1="27.4" x2="12.8" y2="28.6" stroke="#6a6a6a" stroke-width="0.6"/>
</g>
<g transform="translate(521.3,114.9)">
<polygon points="0,0 38.9,15.6 37.5,24.0 19.3,43.3 -19.0,21.2 -19.6,13.0" fill="#fff" stroke="#111" stroke-width="1.7" stroke-linejoin="round"/>
<polyline points="-18.8,13.8 19.6,34.4 38.1,16.2" fill="none" stroke="#aaa" stroke-width="0.6"/>
<line x1="19.6" y1="34.4" x2="19.3" y2="42.5" stroke="#aaa" stroke-width="0.6"/>
<ellipse cx="-10.8" cy="18.4" rx="2.8" ry="2.1" fill="#fff" stroke="#666" stroke-width="0.7" transform="rotate(20 -10.8 18.4)"/>
<line x1="-13.5" y1="17.4" x2="-8.1" y2="18.6" stroke="#6a6a6a" stroke-width="0.6"/>
<ellipse cx="-4.7" cy="21.4" rx="2.8" ry="2.1" fill="#fff" stroke="#666" stroke-width="0.7" transform="rotate(20 -4.7 21.4)"/>
<line x1="-7.4" y1="20.4" x2="-2.0" y2="21.6" stroke="#6a6a6a" stroke-width="0.6"/>
<ellipse cx="2.5" cy="24.7" rx="2.8" ry="2.1" fill="#fff" stroke="#666" stroke-width="0.7" transform="rotate(20 2.5 24.7)"/>
<line x1="-0.2" y1="23.7" x2="5.2" y2="24.9" stroke="#6a6a6a" stroke-width="0.6"/>
<ellipse cx="10.1" cy="28.4" rx="2.8" ry="2.1" fill="#fff" stroke="#666" stroke-width="0.7" transform="rotate(20 10.1 28.4)"/>
<line x1="7.4" y1="27.4" x2="12.8" y2="28.6" stroke="#6a6a6a" stroke-width="0.6"/>
</g>
<g transform="translate(471.1,260.7)">
<polygon points="0,0 38.9,15.6 37.5,24.0 19.3,43.3 -19.0,21.2 -19.6,13.0" fill="#fff" stroke="#111" stroke-width="1.7" stroke-linejoin="round"/>
<polyline points="-18.8,13.8 19.6,34.4 38.1,16.2" fill="none" stroke="#aaa" stroke-width="0.6"/>
<line x1="19.6" y1="34.4" x2="19.3" y2="42.5" stroke="#aaa" stroke-width="0.6"/>
<ellipse cx="-10.8" cy="18.4" rx="2.8" ry="2.1" fill="#fff" stroke="#666" stroke-width="0.7" transform="rotate(20 -10.8 18.4)"/>
<line x1="-13.5" y1="17.4" x2="-8.1" y2="18.6" stroke="#6a6a6a" stroke-width="0.6"/>
<ellipse cx="-4.7" cy="21.4" rx="2.8" ry="2.1" fill="#fff" stroke="#666" stroke-width="0.7" transform="rotate(20 -4.7 21.4)"/>
<line x1="-7.4" y1="20.4" x2="-2.0" y2="21.6" stroke="#6a6a6a" stroke-width="0.6"/>
<ellipse cx="2.5" cy="24.7" rx="2.8" ry="2.1" fill="#fff" stroke="#666" stroke-width="0.7" transform="rotate(20 2.5 24.7)"/>
<line x1="-0.2" y1="23.7" x2="5.2" y2="24.9" stroke="#6a6a6a" stroke-width="0.6"/>
<ellipse cx="10.1" cy="28.4" rx="2.8" ry="2.1" fill="#fff" stroke="#666" stroke-width="0.7" transform="rotate(20 10.1 28.4)"/>
<line x1="7.4" y1="27.4" x2="12.8" y2="28.6" stroke="#6a6a6a" stroke-width="0.6"/>
</g>
<g transform="translate(343.9,148.5)">
<polygon points="0,0 23.8,8.4 23.0,12.4 -0.8,36.7 -25.4,21.7 -26.6,17.2" fill="#fff" stroke="#111" stroke-width="1.6" stroke-linejoin="round"/>
<polyline points="-25.8,18.0 -0.8,30.5 23.0,9.0" fill="none" stroke="#aaa" stroke-width="0.6"/>
<line x1="-0.8" y1="30.5" x2="-0.8" y2="35.900000000000006" stroke="#aaa" stroke-width="0.6"/>
<ellipse cx="-12.5" cy="13.8" rx="2.0" ry="1.45" fill="#fff" stroke="#3a3a3a" stroke-width="0.75"/>
<ellipse cx="-7.83" cy="15.75" rx="2.0" ry="1.45" fill="#fff" stroke="#3a3a3a" stroke-width="0.75"/>
<ellipse cx="-3.16" cy="17.7" rx="2.0" ry="1.45" fill="#fff" stroke="#3a3a3a" stroke-width="0.75"/>
<ellipse cx="1.51" cy="19.65" rx="2.0" ry="1.45" fill="#fff" stroke="#3a3a3a" stroke-width="0.75"/>
<ellipse cx="-16.3" cy="16.7" rx="2.0" ry="1.45" fill="#fff" stroke="#3a3a3a" stroke-width="0.75"/>
<ellipse cx="-11.63" cy="18.65" rx="2.0" ry="1.45" fill="#fff" stroke="#3a3a3a" stroke-width="0.75"/>
<ellipse cx="-6.96" cy="20.6" rx="2.0" ry="1.45" fill="#fff" stroke="#3a3a3a" stroke-width="0.75"/>
<ellipse cx="-2.29" cy="22.55" rx="2.0" ry="1.45" fill="#fff" stroke="#3a3a3a" stroke-width="0.75"/>
</g>
<g transform="translate(0,0)">
<polygon points="274.4,385.3 279.8,377.0 279.6,424.8 274.0,435.3" fill="url(#csSide)" stroke="#2a2a2a" stroke-width="0.8" stroke-linejoin="round"/>
<polygon points="239.3,375.1 279.8,377.0 274.4,385.3 231.3,383.3" fill="url(#csTop)" stroke="#2a2a2a" stroke-width="0.9" stroke-linejoin="round"/>
<polygon points="231.3,383.3 274.4,385.3 274.0,435.3 232.6,431.8" fill="#a6a6a6" stroke="#2a2a2a" stroke-width="1.1" stroke-linejoin="round"/>
<polygon points="232.5,384.9 273.4,386.8 273.2,403.2 232.8,401.3" fill="#8d8d8d"/>
<polygon points="233.4,391.3 272.6,393.1 272.6,396.6 233.4,394.0" fill="#7e7e7e"/>
<line x1="232.6" y1="401.9" x2="273.2" y2="403.8" stroke="#7a7a7a" stroke-width="0.9"/>
<line x1="232.6" y1="402.9" x2="273.2" y2="404.8" stroke="#bcbcbc" stroke-width="0.6"/>
<polyline points="232.5,431.8 231.3,383.3 274.4,385.3" fill="none" stroke="#1c1c1c" stroke-width="1.7" stroke-linejoin="round"/>
<g fill="#fff" stroke="none">
<polygon points="234.2,386.4 244.0,387.0 244.0,390.9 234.2,390.5"/>
<polygon points="259.6,388.0 270.3,388.6 270.3,392.8 259.6,392.3"/>
<polygon points="234.6,394.1 244.8,394.7 244.8,398.8 234.6,398.4"/>
<polygon points="259.6,397.0 270.3,397.6 270.3,401.8 259.6,401.3"/>
</g>
<g stroke="#fff" stroke-width="1.3" fill="none" stroke-linecap="round">
<line x1="243.8" y1="388.9" x2="260" y2="399.3"/>
<line x1="244.6" y1="396.8" x2="260" y2="390.1"/>
</g>
<g stroke="#c4c4c4" stroke-width="0.7"><line x1="246.5" y1="388.2" x2="257.5" y2="388.8"/><line x1="247" y1="398.2" x2="257.5" y2="398.8"/></g>
<g transform="translate(253.1,418.6) skewY(5)" fill="#fff">
<g transform="rotate(-2)"><rect x="-1.5" y="-10.8" width="3" height="6.1"/><polygon points="0,-13.8 3.2,-9.9 -3.2,-9.9"/></g>
<g transform="rotate(43)"><rect x="-1.5" y="-11.9" width="3" height="7.2"/><polygon points="0,-14.9 3.2,-11.0 -3.2,-11.0"/></g>
<g transform="rotate(88)"><rect x="-1.5" y="-11.9" width="3" height="7.2"/><polygon points="0,-14.9 3.2,-11.0 -3.2,-11.0"/></g>
<g transform="rotate(133)"><rect x="-1.5" y="-11.9" width="3" height="7.2"/><polygon points="0,-14.9 3.2,-11.0 -3.2,-11.0"/></g>
<g transform="rotate(178)"><rect x="-1.5" y="-10.8" width="3" height="6.1"/><polygon points="0,-13.8 3.2,-9.9 -3.2,-9.9"/></g>
<g transform="rotate(223)"><rect x="-1.5" y="-11.9" width="3" height="7.2"/><polygon points="0,-14.9 3.2,-11.0 -3.2,-11.0"/></g>
<g transform="rotate(268)"><rect x="-1.5" y="-11.9" width="3" height="7.2"/><polygon points="0,-14.9 3.2,-11.0 -3.2,-11.0"/></g>
<g transform="rotate(313)"><rect x="-1.5" y="-11.9" width="3" height="7.2"/><polygon points="0,-14.9 3.2,-11.0 -3.2,-11.0"/></g>
<circle r="3.6" fill="#959595"/>
</g>
</g>
<g transform="translate(180,-0.5)">
<polygon points="274.4,385.3 279.8,377.0 279.6,424.8 274.0,435.3" fill="url(#csSide)" stroke="#2a2a2a" stroke-width="0.8" stroke-linejoin="round"/>
<polygon points="239.3,375.1 279.8,377.0 274.4,385.3 231.3,383.3" fill="url(#csTop)" stroke="#2a2a2a" stroke-width="0.9" stroke-linejoin="round"/>
<polygon points="231.3,383.3 274.4,385.3 274.0,435.3 232.6,431.8" fill="#a6a6a6" stroke="#2a2a2a" stroke-width="1.1" stroke-linejoin="round"/>
<polygon points="232.5,384.9 273.4,386.8 273.2,403.2 232.8,401.3" fill="#8d8d8d"/>
<polygon points="233.4,391.3 272.6,393.1 272.6,396.6 233.4,394.0" fill="#7e7e7e"/>
<line x1="232.6" y1="401.9" x2="273.2" y2="403.8" stroke="#7a7a7a" stroke-width="0.9"/>
<line x1="232.6" y1="402.9" x2="273.2" y2="404.8" stroke="#bcbcbc" stroke-width="0.6"/>
<polyline points="232.5,431.8 231.3,383.3 274.4,385.3" fill="none" stroke="#1c1c1c" stroke-width="1.7" stroke-linejoin="round"/>
<g fill="#fff" stroke="none">
<polygon points="234.2,386.4 244.0,387.0 244.0,390.9 234.2,390.5"/>
<polygon points="259.6,388.0 270.3,388.6 270.3,392.8 259.6,392.3"/>
<polygon points="234.6,394.1 244.8,394.7 244.8,398.8 234.6,398.4"/>
<polygon points="259.6,397.0 270.3,397.6 270.3,401.8 259.6,401.3"/>
</g>
<g stroke="#fff" stroke-width="1.3" fill="none" stroke-linecap="round">
<line x1="243.8" y1="388.9" x2="260" y2="399.3"/>
<line x1="244.6" y1="396.8" x2="260" y2="390.1"/>
</g>
<g stroke="#c4c4c4" stroke-width="0.7"><line x1="246.5" y1="388.2" x2="257.5" y2="388.8"/><line x1="247" y1="398.2" x2="257.5" y2="398.8"/></g>
<g transform="translate(253.1,418.6) skewY(5)" fill="#fff">
<g transform="rotate(-2)"><rect x="-1.5" y="-10.8" width="3" height="6.1"/><polygon points="0,-13.8 3.2,-9.9 -3.2,-9.9"/></g>
<g transform="rotate(43)"><rect x="-1.5" y="-11.9" width="3" height="7.2"/><polygon points="0,-14.9 3.2,-11.0 -3.2,-11.0"/></g>
<g transform="rotate(88)"><rect x="-1.5" y="-11.9" width="3" height="7.2"/><polygon points="0,-14.9 3.2,-11.0 -3.2,-11.0"/></g>
<g transform="rotate(133)"><rect x="-1.5" y="-11.9" width="3" height="7.2"/><polygon points="0,-14.9 3.2,-11.0 -3.2,-11.0"/></g>
<g transform="rotate(178)"><rect x="-1.5" y="-10.8" width="3" height="6.1"/><polygon points="0,-13.8 3.2,-9.9 -3.2,-9.9"/></g>
<g transform="rotate(223)"><rect x="-1.5" y="-11.9" width="3" height="7.2"/><polygon points="0,-14.9 3.2,-11.0 -3.2,-11.0"/></g>
<g transform="rotate(268)"><rect x="-1.5" y="-11.9" width="3" height="7.2"/><polygon points="0,-14.9 3.2,-11.0 -3.2,-11.0"/></g>
<g transform="rotate(313)"><rect x="-1.5" y="-11.9" width="3" height="7.2"/><polygon points="0,-14.9 3.2,-11.0 -3.2,-11.0"/></g>
<circle r="3.6" fill="#959595"/>
</g>
</g>
<g transform="translate(257,478)">
<path d="M-33.8,5.2 A33.8,5.0 0 0 0 33.8,5.2 L30.8,39.5 A30.8,5.6 0 0 1 -30.8,39.5 Z" fill="url(#rtBody)"/>
<ellipse cx="0" cy="5.2" rx="33.8" ry="5.0" fill="url(#rtTop)"/>
<g transform="translate(0,5.2) scale(1,0.33)" stroke="#fff" fill="#fff">
<path d="M-13,-6 L-4,-1 M-13,6 L-4,1 M13,-6 L4,-1 M13,6 L4,1" stroke-width="3.2" fill="none"/>
<polygon points="-1,-0 -7,-6 -7,6" stroke="none"/><polygon points="1,0 7,-6 7,6" stroke="none"/>
<polygon points="-17,-9 -10,-8 -13,-2" stroke="none"/><polygon points="17,-9 10,-8 13,-2" stroke="none"/>
</g>
<g stroke="#fff" stroke-width="3.1" fill="none" stroke-linecap="butt" stroke-linejoin="round">
<path d="M-22.5,17.6 L-15.2,17.5 L13.8,36.4 L20.5,36.4"/>
<path d="M22.5,17.6 L15.2,17.5 L-13.8,36.4 L-20.5,36.4"/>
</g>
<g fill="#fff">
<polygon points="-27.3,17.8 -21.5,14.2 -21.5,21.4"/>
<polygon points="27.3,17.8 21.5,14.2 21.5,21.4"/>
<polygon points="-24.3,36.8 -18.8,33.2 -18.8,40.2"/>
<polygon points="24.3,36.8 18.8,33.2 18.8,40.2"/>
</g>
</g>
<g transform="translate(432.8,478)">
<path d="M-33.8,5.2 A33.8,5.0 0 0 0 33.8,5.2 L30.8,39.5 A30.8,5.6 0 0 1 -30.8,39.5 Z" fill="url(#rtBody)"/>
<ellipse cx="0" cy="5.2" rx="33.8" ry="5.0" fill="url(#rtTop)"/>
<g transform="translate(0,5.2) scale(1,0.33)" stroke="#fff" fill="#fff">
<path d="M-13,-6 L-4,-1 M-13,6 L-4,1 M13,-6 L4,-1 M13,6 L4,1" stroke-width="3.2" fill="none"/>
<polygon points="-1,-0 -7,-6 -7,6" stroke="none"/><polygon points="1,0 7,-6 7,6" stroke="none"/>
<polygon points="-17,-9 -10,-8 -13,-2" stroke="none"/><polygon points="17,-9 10,-8 13,-2" stroke="none"/>
</g>
<g stroke="#fff" stroke-width="3.1" fill="none" stroke-linecap="butt" stroke-linejoin="round">
<path d="M-22.5,17.6 L-15.2,17.5 L13.8,36.4 L20.5,36.4"/>
<path d="M22.5,17.6 L15.2,17.5 L-13.8,36.4 L-20.5,36.4"/>
</g>
<g fill="#fff">
<polygon points="-27.3,17.8 -21.5,14.2 -21.5,21.4"/>
<polygon points="27.3,17.8 21.5,14.2 21.5,21.4"/>
<polygon points="-24.3,36.8 -18.8,33.2 -18.8,40.2"/>
<polygon points="24.3,36.8 18.8,33.2 18.8,40.2"/>
</g>
</g>
</svg>
<div class="lb hd" style="left:61.7px;top:41.74px;font-size:12px;color:#111;letter-spacing:-0.15px">Server Farm</div>
<div class="lb hd" style="left:56.2px;top:435.54px;font-size:12px;color:#111;letter-spacing:0px">IDC Backbone</div>
<div class="lb" style="left:28px;top:108.09px;font-size:11px;color:#111;letter-spacing:0px">100M Shared</div>
<div class="lb" style="left:136.4px;top:212.89px;font-size:11px;color:#111;letter-spacing:0.06px">Access Switch</div>
<div class="lb" style="left:325.5px;top:39.99px;font-size:11px;color:#111;letter-spacing:0px">1Gbps</div>
<div class="lb" style="left:313.8px;top:186.99px;font-size:11px;color:#111;letter-spacing:0px">Giga Switch</div>
<div class="lb" style="left:594.5px;top:48.39px;font-size:11px;color:#111;letter-spacing:-0.06px">10M Shared</div>
<div class="lb" style="left:502.4px;top:158.39px;font-size:11px;color:#111;letter-spacing:0.06px">Access Switch</div>
<div class="lb" style="left:450px;top:303.89px;font-size:11px;color:#111;letter-spacing:0.06px">Access Switch</div>
<div class="lb" style="left:594.6px;top:345.69px;font-size:11px;color:#111;letter-spacing:0px">10M Dedi<span class='dot'>.</span></div>
<div class="lb" style="left:121.4px;top:297.89px;font-size:11px;color:#111;letter-spacing:-0.08px">Fast Ethernet</div>
<div class="lb" style="left:41.5px;top:345.79px;font-size:11px;color:#111;letter-spacing:0px">100M Dedi<span class='dot'>.</span></div>
<div class="lb" style="left:312.4px;top:287.99px;font-size:11px;color:#111;letter-spacing:-0.05px">Giga Ethernet</div>
<div class="lb" style="left:312.4px;top:362.59px;font-size:11px;color:#111;letter-spacing:-0.05px">Giga Ethernet</div>
<div class="lb" style="left:130.6px;top:483.49px;font-size:11px;color:#111;letter-spacing:0px">Backbone Router</div>
<div class="lb big" style="left:462.6px;top:363.06px;font-size:18px;color:#c78a7b;letter-spacing:-0.66px">Core Switch</div>
</div>
</body></html>
